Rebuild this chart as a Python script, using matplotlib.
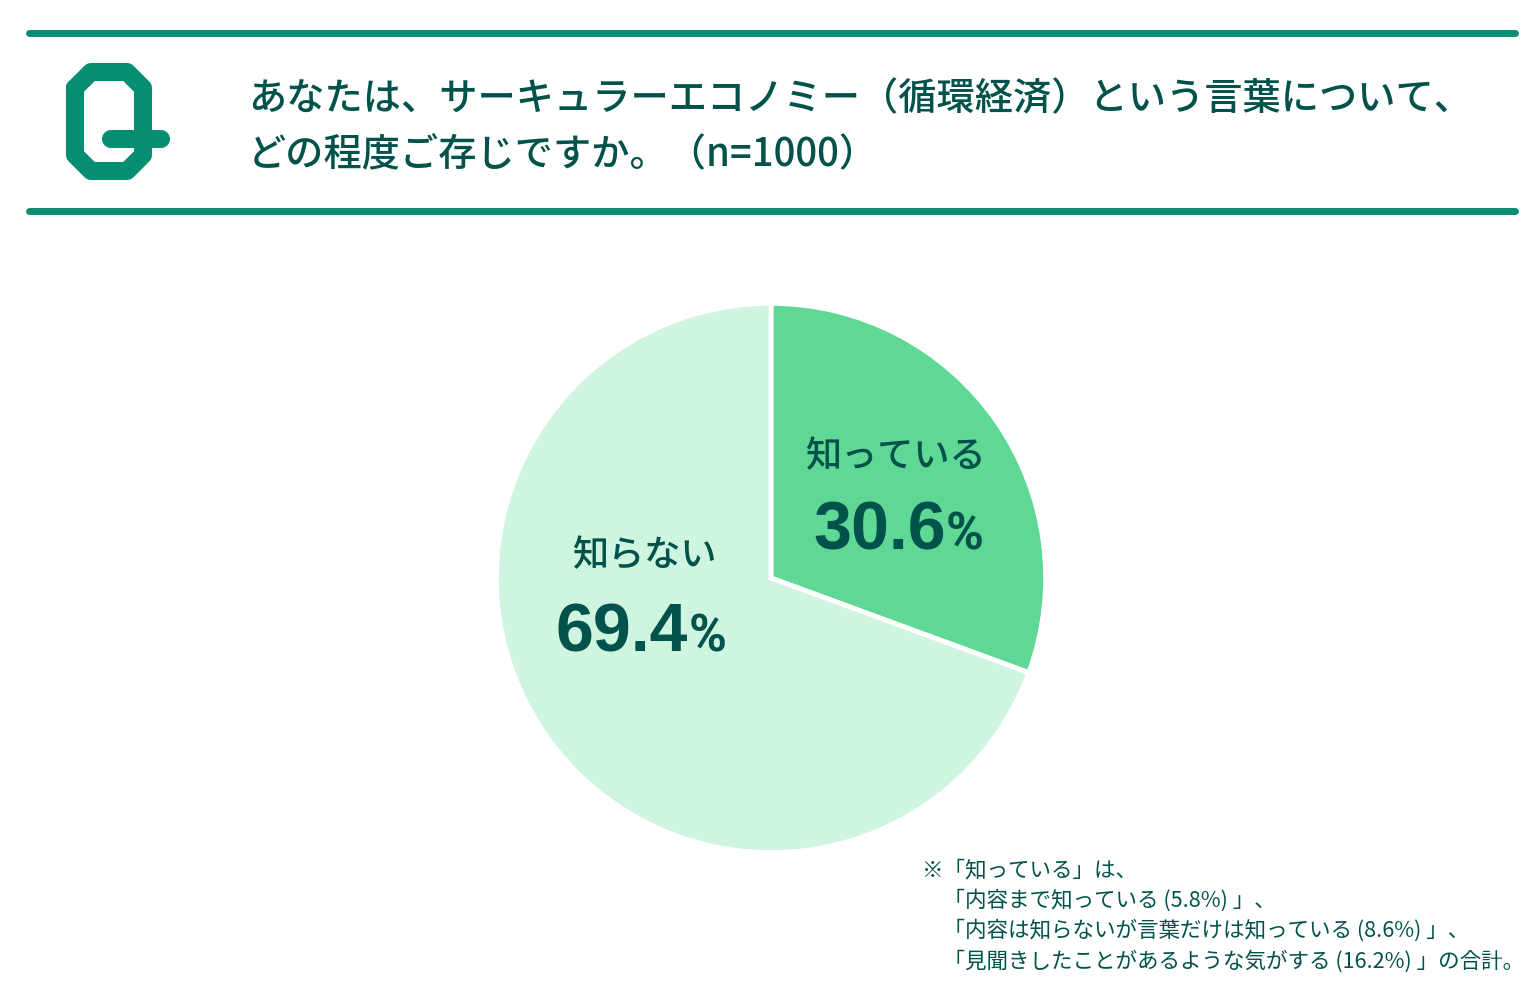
import matplotlib
matplotlib.use("Agg")
import matplotlib.pyplot as plt
from matplotlib.lines import Line2D

plt.rcParams['font.family'] = ['Noto Sans CJK JP', 'DejaVu Sans']

categories = ["知っている", "知らない"]
values = [30.6, 69.4]
value_labels = ["30.6", "69.4"]
colors = ["#5fd896", "#cff4e0"]
title_lines = ["あなたは、サーキュラーエコノミー（循環経済）という言葉について、", "どの程度ご存じですか。（n=1000）"]
note_lines = ["※「知っている」は、",
              "　「内容まで知っている (5.8%) 」、",
              "　「内容は知らないが言葉だけは知っている (8.6%) 」、",
              "　「見聞きしたことがあるような気がする (16.2%) 」の合計。"]
GREEN = "#068e72"
DARK = "#00524a"
NUM_FONT = "Liberation Sans"
PCT_FONT = "Roboto"

W, H = 1540, 1000
fig = plt.figure(figsize=(W/100, H/100), dpi=100, facecolor="white")

# pie
cx, cy, r = 771, 578, 273
ax = fig.add_axes([(cx-r-3)/W, 1-(cy+r+3)/H, (2*r+6)/W, (2*r+6)/H], zorder=0)
ax.pie(values, colors=colors, startangle=90, counterclock=False, radius=1.006,
       wedgeprops=dict(edgecolor="white", linewidth=3.5))
ax.set_xlim(-1.011, 1.011); ax.set_ylim(-1.011, 1.011)

bg = fig.add_axes([0, 0, 1, 1], zorder=1)
bg.set_xlim(0, W); bg.set_ylim(H, 0); bg.axis("off")

for y in (33, 211):
    bg.add_line(Line2D([29, 1515], [y, y], color=GREEN, lw=5, solid_capstyle="round"))

# Q icon
q_x = [75, 91, 127, 143, 143, 127, 91, 75, 75]
q_y = [88, 72, 72, 88, 155, 171, 171, 155, 88]
bg.add_line(Line2D(q_x, q_y, color=GREEN, lw=13, solid_joinstyle="round", solid_capstyle="round"))
bg.add_line(Line2D([111, 161], [139, 139], color=GREEN, lw=13, solid_capstyle="round"))

bg.text(248, 99, title_lines[0], fontsize=27.5, color=DARK, va="center", ha="left", fontweight="medium")
bg.text(248, 155, title_lines[1], fontsize=27.5, color=DARK, va="center", ha="left", fontweight="medium")

for i, t in enumerate(note_lines):
    bg.text(922, 870 + i*30.5, t, fontsize=15.5, color=DARK, va="center", ha="left")

bg.text(895, 457, categories[0], fontsize=26, color=DARK, ha="center", va="center", fontweight="medium")
bg.text(644, 556, categories[1], fontsize=26, color=DARK, ha="center", va="center", fontweight="medium")
bg.text(946, 549, value_labels[0], fontsize=49, color=DARK, ha="right", va="baseline", fontweight="bold", family=NUM_FONT)
bg.text(946, 549, "%", fontsize=37, color=DARK, ha="left", va="baseline", fontweight="bold", family=PCT_FONT)
bg.text(688, 652, value_labels[1], fontsize=49, color=DARK, ha="right", va="baseline", fontweight="bold", family=NUM_FONT)
bg.text(689, 652, "%", fontsize=37, color=DARK, ha="left", va="baseline", fontweight="bold", family=PCT_FONT)

fig.savefig("out.png", dpi=100)
